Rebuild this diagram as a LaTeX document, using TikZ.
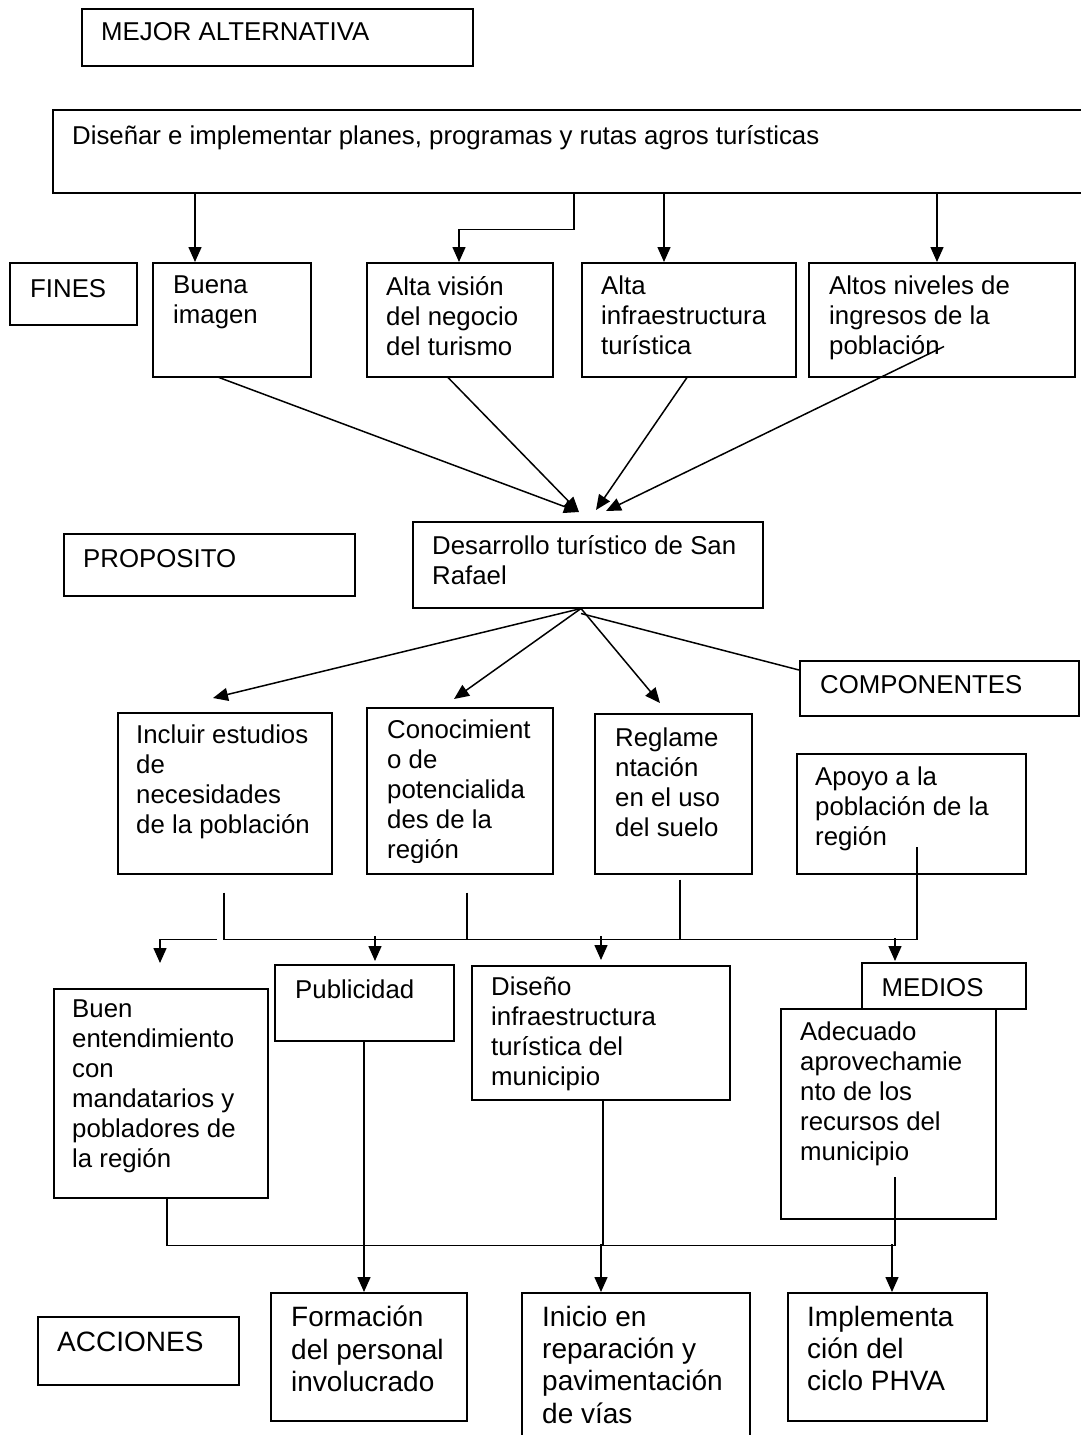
\documentclass[tikz,border=0pt]{standalone}
\usepackage{fontspec}
\setmainfont{Liberation Sans}
\usetikzlibrary{arrows.meta,calc}
\begin{document}
\begin{tikzpicture}[x=1pt,y=-1pt,
  box/.style={draw,line width=1.5pt,inner sep=0pt,anchor=north west},
  txt/.style={anchor=north west,inner sep=0pt,align=left,font=\fontsize{25.8}{30}\selectfont,execute at begin node=\strut},
  txtb/.style={anchor=north west,inner sep=0pt,align=left,font=\fontsize{28}{32.2}\selectfont,execute at begin node=\strut},
  ln/.style={line width=1.5pt},
  arr/.style={line width=1.5pt,-{Triangle[length=15pt,width=13pt]}}]
\useasboundingbox (0,0) rectangle (1080,1435);
\fill[white] (0,0) rectangle (1080,1435);

% boxes
\node[box,minimum width=391,minimum height=57] (mejor) at (81,8) {};
\node[box,minimum width=1040,minimum height=83] (top) at (52,109) {};
\node[box,minimum width=127,minimum height=62] (fines) at (9,262) {};
\node[box,minimum width=158,minimum height=114] (buena) at (152,262) {};
\node[box,minimum width=186,minimum height=114] (vision) at (366,262) {};
\node[box,minimum width=214,minimum height=114] (infra) at (581,262) {};
\node[box,minimum width=266,minimum height=114] (altos) at (808,262) {};
\node[box,minimum width=291,minimum height=62] (proposito) at (63,533) {};
\node[box,minimum width=350,minimum height=86] (desarrollo) at (412,521) {};
\node[box,minimum width=279,minimum height=55] (componentes) at (799,660) {};
\node[box,minimum width=214,minimum height=161] (incluir) at (117,712) {};
\node[box,minimum width=186,minimum height=166] (conoc) at (366,707) {};
\node[box,minimum width=157,minimum height=160] (regla) at (594,713) {};
\node[box,minimum width=229,minimum height=120] (apoyo) at (796,753) {};
\node[box,minimum width=214,minimum height=209] (buen) at (53,988) {};
\node[box,minimum width=179,minimum height=76] (public) at (274,964) {};
\node[box,minimum width=258,minimum height=134] (diseno) at (471,965) {};
\node[box,minimum width=215,minimum height=210] (adecuado) at (780,1008) {};
\node[box,minimum width=164,minimum height=46] (medios) at (861,962) {};
\node[box,minimum width=201,minimum height=68] (acciones) at (37,1316) {};
\node[box,minimum width=196,minimum height=128] (formacion) at (270,1292) {};
\node[box,minimum width=228,minimum height=170] (inicio) at (521,1292) {};
\node[box,minimum width=199,minimum height=128] (implementa) at (787,1292) {};

% texts
\node[txt] (mejor-t) at (101,19) {MEJOR ALTERNATIVA};
\node[txt] (top-t) at (72,123.5) {Diseñar e implementar planes, programas y rutas agros turísticas};
\node[txt] (fines-t) at (30,276) {FINES};
\node[txt] (buena-t) at (173,276) {Buena\\imagen};
\node[txt] (vision-t) at (386,276) {Alta visión\\del negocio\\del turismo};
\node[txt] (infra-t) at (601,276) {Alta\\infraestructura\\turística};
\node[txt] (altos-t) at (829,276) {Altos niveles de\\ingresos de la\\población};
\node[txt] (proposito-t) at (83,546) {PROPOSITO};
\node[txt] (desarrollo-t) at (432,535) {Desarrollo turístico de San\\Rafael};
\node[txt] (componentes-t) at (820,672) {COMPONENTES};
\node[txt] (incluir-t) at (136,725) {Incluir estudios\\de\\necesidades\\de la población};
\begin{scope}
\clip (366,707) rectangle (552,862);
\node[txt] (conoc-t) at (387,720) {Conocimient\\o de\\potencialida\\des de la\\región};
\end{scope}
\node[txt] (regla-t) at (615,728) {Reglame\\ntación\\en el uso\\del suelo};
\node[txt] (apoyo-t) at (815,767) {Apoyo a la\\población de la\\región};
\node[txt] (buen-t) at (72,1000) {Buen\\entendimiento\\con\\mandatarios y\\pobladores de\\la región};
\node[txt] (public-t) at (295,977) {Publicidad};
\begin{scope}
\clip (471,965) rectangle (729,1090);
\node[txt] (diseno-t) at (491,977) {Diseño\\infraestructura\\turística del\\municipio};
\end{scope}
\node[txt] (medios-t) at (881.5,975) {MEDIOS};
\node[txt] (adecuado-t) at (800,1022) {Adecuado\\aprovechamie\\nto de los\\recursos del\\municipio};
\node[txtb] (acciones-t) at (57,1328.5) {ACCIONES};
\node[txtb] (formacion-t) at (291,1306) {Formación\\del personal\\involucrado};
\node[txtb] (inicio-t) at (542,1306) {Inicio en\\reparación y\\pavimentación\\de vías};
\node[txtb] (implementa-t) at (807,1306) {Implementa\\ción del\\ciclo PHVA};

% connectors: alternativa -> fines
\draw[arr] ($(top.south west)+(143,0)$) -- ($(buena.north west)+(43,0)$);
\draw[arr] ($(top.south west)+(522,0)$) -- ++(0,36) -| ($(vision.north west)+(93,0)$);
\draw[arr] ($(top.south west)+(612,0)$) -- ($(infra.north west)+(83,0)$);
\draw[arr] ($(top.south west)+(885,0)$) -- ($(altos.north west)+(129,0)$);

% fines -> proposito
\draw[arr] ($(buena.south west)+(67,0)$) -- ($(desarrollo.north west)+(167,-9)$);
\draw[arr] ($(vision.south west)+(82,0)$) -- ($(desarrollo.north west)+(167,-9)$);
\draw[arr] ($(infra.south west)+(106,0)$) -- ($(desarrollo.north west)+(184,-11)$);
\draw[arr] ($(altos.south west)+(136,-31)$) -- ($(desarrollo.north west)+(194,-10)$);

% proposito -> componentes
\draw[arr] ($(desarrollo.south west)+(169,0)$) -- ($(incluir.north west)+(96,-14)$);
\draw[arr] ($(desarrollo.south west)+(169,0)$) -- ($(conoc.north west)+(88,-8)$);
\draw[arr] ($(desarrollo.south west)+(169,0)$) -- ($(regla.north west)+(66,-10)$);
\draw[ln] ($(desarrollo.south west)+(169,5)$) -- ($(componentes.north west)+(0,10)$);

% componentes -> medios
\draw[ln] ($(incluir.south west)+(107,18)$) -- ++(0,47) -| ($(apoyo.south west)+(121,-28)$);
\draw[ln] ($(conoc.south west)+(101,18)$) -- ++(0,46);
\draw[ln] ($(regla.south west)+(86,5)$) -- ++(0,59);
\draw[arr] ($(incluir.south west)+(100,65)$) -| ($(buen.north west)+(107,-25)$);
\draw[arr] ($(public.north west)+(101,-28)$) -- ($(public.north west)+(101,-3)$);
\draw[arr] ($(diseno.north west)+(130,-29)$) -- ($(diseno.north west)+(130,-5)$);
\draw[arr] ($(medios.north west)+(34,-24)$) -- ($(medios.north west)+(34,-1)$);

% medios -> acciones
\draw[ln] ($(buen.south west)+(114,0)$) -- ++(0,47) -| ($(adecuado.south west)+(115,-43)$);
\draw[ln] ($(diseno.south west)+(132,0)$) -- ++(0,145);
\draw[arr] ($(public.south west)+(90,0)$) -- ($(formacion.north west)+(94,0)$);
\draw[arr] ($(inicio.north west)+(80,-48)$) -- ($(inicio.north west)+(80,0)$);
\draw[arr] ($(implementa.north west)+(105,-48)$) -- ($(implementa.north west)+(105,0)$);
\end{tikzpicture}
\end{document}
